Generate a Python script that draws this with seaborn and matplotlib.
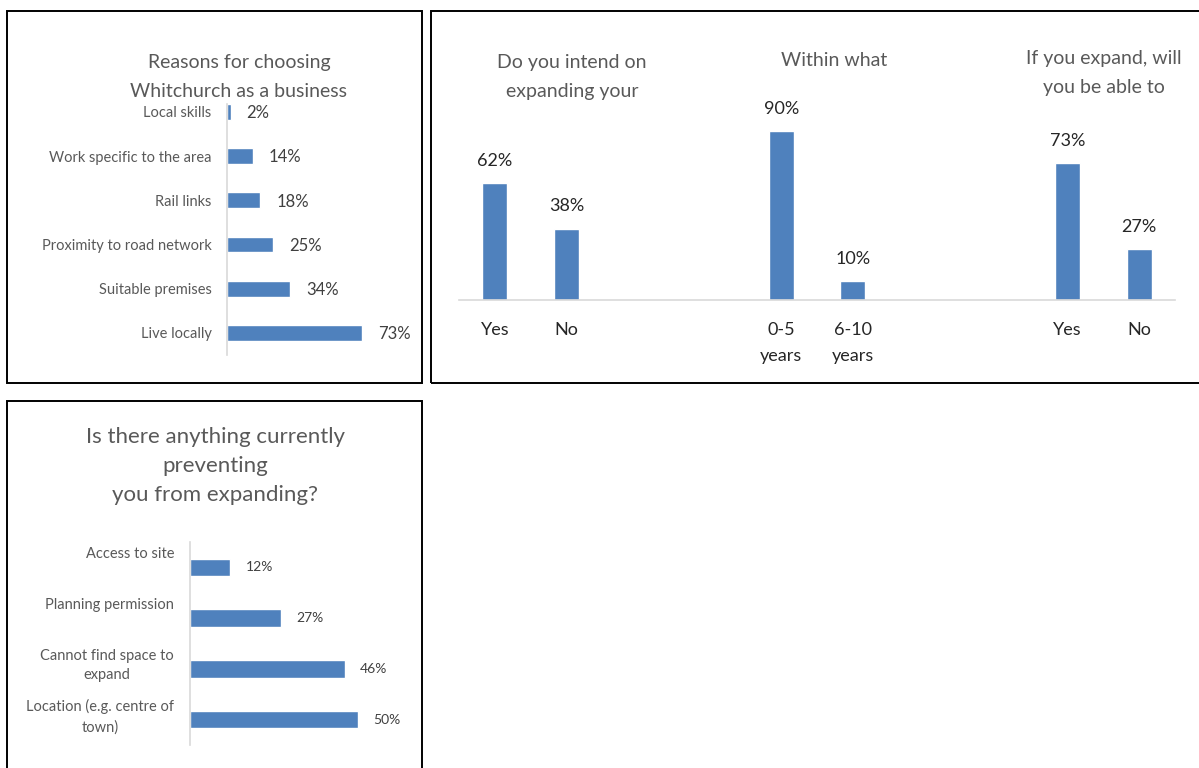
import matplotlib.pyplot as plt
import seaborn as sns
from matplotlib.patches import Rectangle

# Reasons for choosing Whitchurch
reason_labels = ['Local skills', 'Work specific to the area', 'Rail links',
                 'Proximity to road network', 'Suitable premises', 'Live locally']
reason_values = [2, 14, 18, 25, 34, 73]

# Expansion questions (three groups of two bars)
expand_groups = ['intend', 'intend', 'within', 'within', 'able', 'able']
expand_labels = ['Yes', 'No', '0-5\nyears', '6-10\nyears', 'Yes', 'No']
expand_values = [62, 38, 90, 10, 73, 27]
expand_titles = ['Do you intend on\nexpanding your', 'Within what', 'If you expand, will\nyou be able to']

# Barriers to expansion
barrier_labels = ['Access to site', 'Planning permission',
                  'Cannot find space to\nexpand', 'Location (e.g. centre of\ntown)']
barrier_values = [12, 27, 46, 50]

BLUE = '#4F81BD'
GRID = '#D9D9D9'
TITLE_C = '#595959'
LABEL_C = '#595959'
VALUE_C = '#404040'

sns.set_theme(style='white')
plt.rcParams['font.family'] = ['Lato', 'DejaVu Sans']

W, H = 1199, 768
fig = plt.figure(figsize=(W / 100, H / 100), dpi=100)


def px_box(x0, y0, x1, y1):
    return [x0 / W, 1 - y1 / H, (x1 - x0) / W, (y1 - y0) / H]


def px(x, y):
    return x / W, 1 - y / H


# panel borders
for x0, y0, x1, y1 in [(7, 11, 422, 383), (431, 11, 1215, 383), (7, 401, 422, 790)]:
    fig.patches.append(Rectangle((x0 / W, 1 - y1 / H), (x1 - x0) / W, (y1 - y0) / H,
                                 transform=fig.transFigure, fill=False,
                                 edgecolor='black', linewidth=1.4))

# ---- Panel 1: reasons ----
ax1 = fig.add_axes(px_box(227, 104, 412, 355))
sns.barplot(x=reason_values, y=reason_labels, orient='h', color=BLUE,
            saturation=1, width=0.36, ax=ax1)
ax1.set_xlim(0, 100)
ax1.set_ylim(5.5, -0.18)
ax1.set_facecolor('none')
for s in ['top', 'right', 'bottom']:
    ax1.spines[s].set_visible(False)
ax1.spines['left'].set_color(GRID)
ax1.spines['left'].set_linewidth(1.2)
ax1.set_xticks([])
ax1.set_xlabel('')
ax1.set_ylabel('')
ax1.tick_params(axis='y', length=0, pad=11, labelsize=10.5, labelcolor=LABEL_C)
for i, v in enumerate(reason_values):
    ax1.annotate(f'{v}%', xy=(v, i + 0.03), xytext=(11.5, 0), textcoords='offset points',
                 ha='left', va='center', fontsize=12, color=VALUE_C)
fig.text(*px(239, 77), 'Reasons for choosing\nWhitchurch as a business',
         ha='center', va='center', fontsize=14, color=TITLE_C, linespacing=1.85)

# ---- Panel 2: expansion questions ----
keys = [g + '|' + l for g, l in zip(expand_groups, expand_labels)]
order = keys[:2] + ['gap1', 'gap2'] + keys[2:4] + ['gap3', 'gap4'] + keys[4:]
ax2 = fig.add_axes(px_box(459, 112, 1175, 300))
sns.barplot(x=keys, y=expand_values, order=order, color=BLUE, saturation=1,
            width=0.35, ax=ax2)
ax2.set_ylim(0, 100)
ax2.set_xlim(-0.5, len(order) - 0.5)
ax2.set_facecolor('none')
for s in ['top', 'right', 'left']:
    ax2.spines[s].set_visible(False)
ax2.spines['bottom'].set_color(GRID)
ax2.spines['bottom'].set_linewidth(1.2)
ax2.set_yticks([])
ax2.set_xlabel('')
ax2.set_ylabel('')
ax2.set_xticks(range(len(order)))
ax2.set_xticklabels([k.split('|')[1] if '|' in k else '' for k in order])
ax2.tick_params(axis='x', length=0, pad=16, labelsize=13, labelcolor='#262626')
for t in ax2.get_xticklabels():
    t.set_linespacing(1.75)
for k, v in zip(keys, expand_values):
    ax2.annotate(f'{v}%', xy=(order.index(k), v), xytext=(0, 16), textcoords='offset points',
                 ha='center', va='center', fontsize=13, color='#262626')
for (cx, cy), title in zip([(572, 77), (834, 61), (1104, 73)], expand_titles):
    fig.text(*px(cx, cy), title, ha='center', va='center', fontsize=14,
             color=TITLE_C, linespacing=1.8)

# ---- Panel 3: barriers ----
ax3 = fig.add_axes(px_box(190, 542, 392, 745))
sns.barplot(x=barrier_values, y=barrier_labels, orient='h', color=BLUE,
            saturation=1, width=0.34, ax=ax3)
ax3.set_xlim(0, 60)
ax3.set_ylim(3.5, -0.5)
ax3.set_facecolor('none')
for s in ['top', 'right', 'bottom']:
    ax3.spines[s].set_visible(False)
ax3.spines['left'].set_color(GRID)
ax3.spines['left'].set_linewidth(1.2)
ax3.set_xticks([])
ax3.set_yticks([])
ax3.set_xlabel('')
ax3.set_ylabel('')
for i, (lab, v) in enumerate(zip(barrier_labels, barrier_values)):
    ax3.annotate(lab, xy=(0, i - 0.4), xycoords=ax3.get_yaxis_transform(),
                 xytext=(-11.5, 0), textcoords='offset points', ha='right', va='top',
                 multialignment='center', fontsize=10.5, color=LABEL_C, linespacing=1.5)
    ax3.annotate(f'{v}%', xy=(v, i), xytext=(11, 0), textcoords='offset points',
                 ha='left', va='center', fontsize=10, color=VALUE_C)
fig.text(*px(215, 466), 'Is there anything currently\npreventing\nyou from expanding?',
         ha='center', va='center', fontsize=16, color=TITLE_C, linespacing=1.55)

fig.savefig('out.png', dpi=100, facecolor='white')
